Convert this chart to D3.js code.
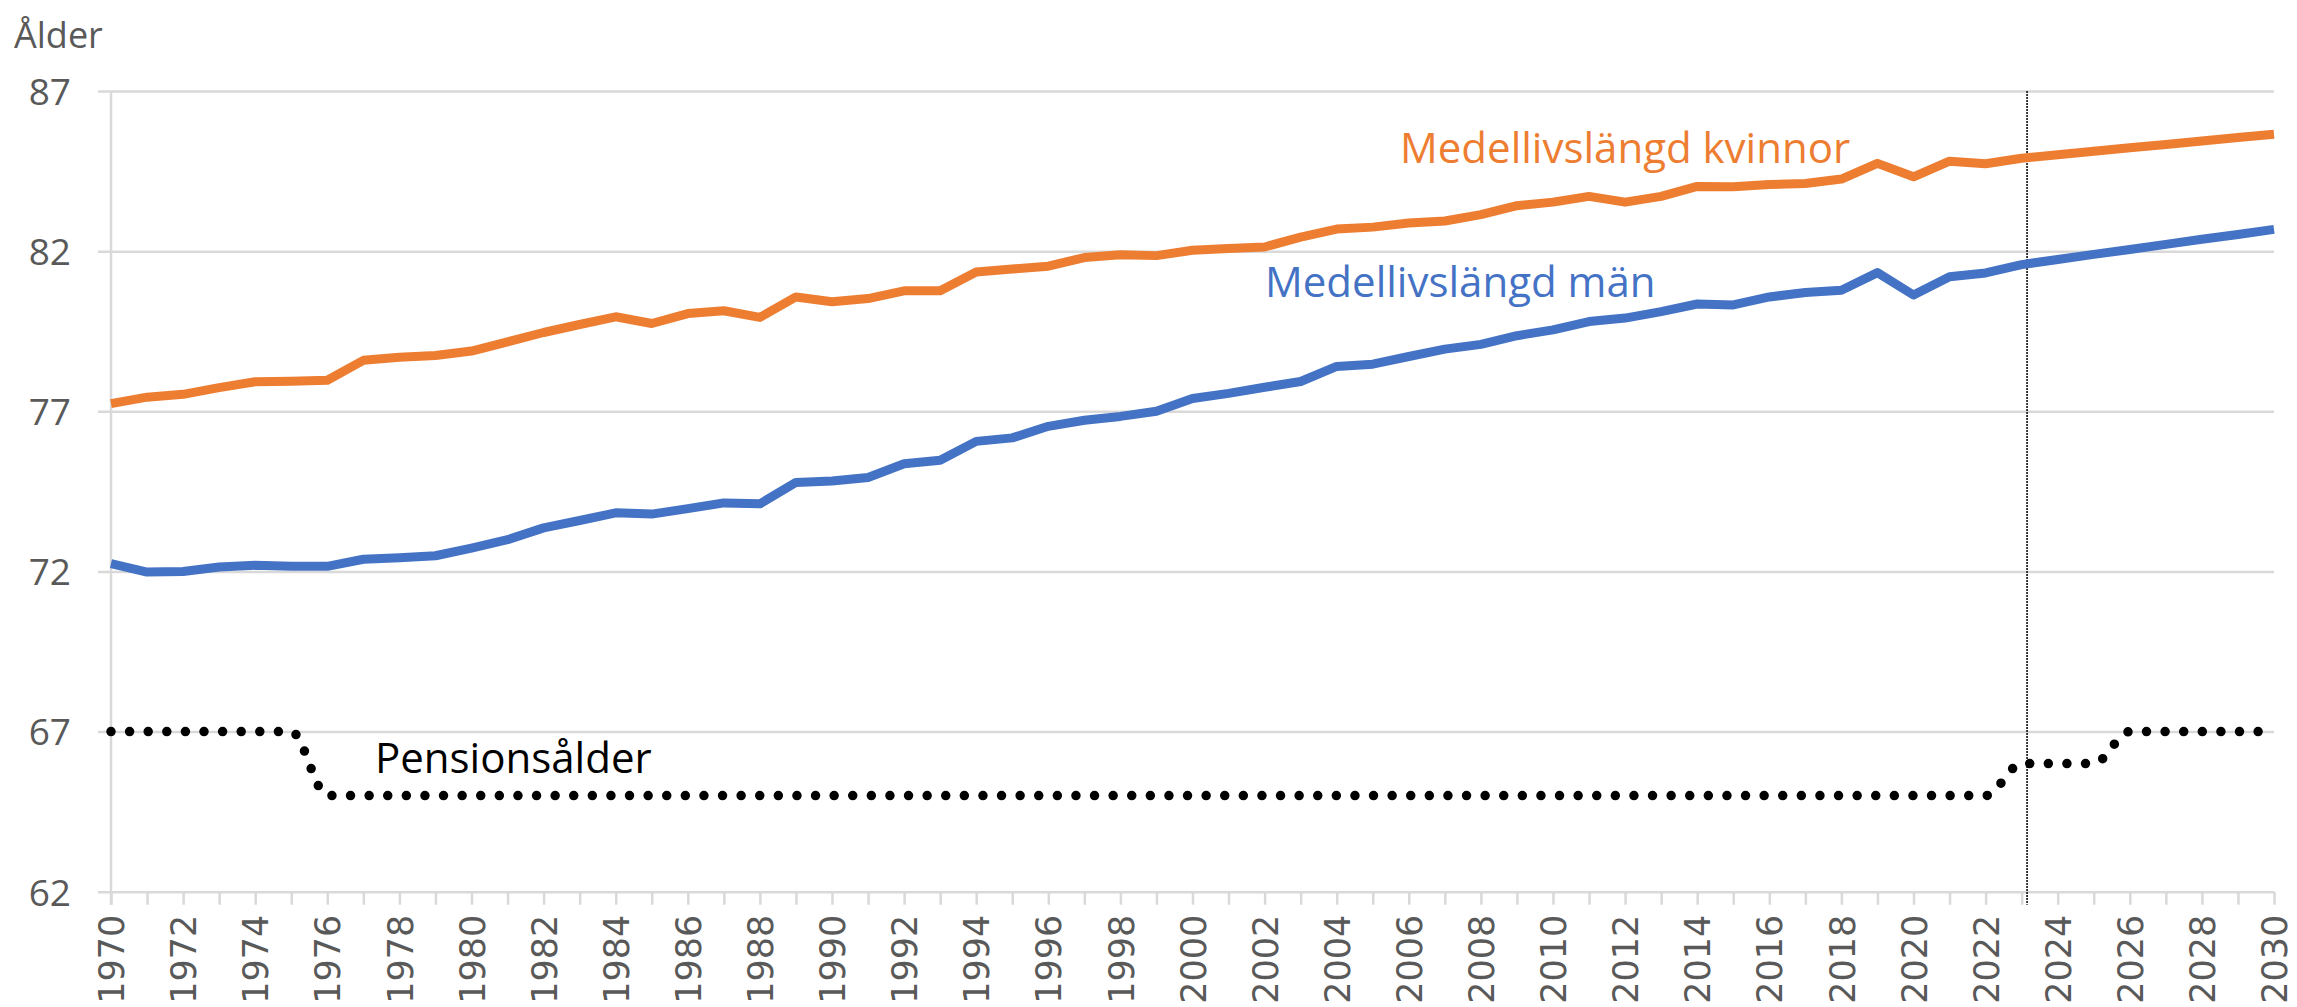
<!DOCTYPE html>
<html>
<head>
<meta charset="utf-8">
<script src="https://cdn.jsdelivr.net/npm/d3@7"></script>
<style>
  body { margin: 0; background: #fff; }
  svg { display: block; }
</style>
</head>
<body>
<div id="chart"></div>
<script>
// years 1970-2030
var years = d3.range(1970, 2031);

// medellivslängd kvinnor
var kvinnor = [77.24, 77.44, 77.53, 77.74, 77.92, 77.94, 77.97, 78.59, 78.69, 78.74,
               78.88, 79.17, 79.46, 79.71, 79.95, 79.74, 80.05, 80.14, 79.93, 80.57,
               80.42, 80.52, 80.76, 80.76, 81.35, 81.44, 81.53, 81.80, 81.89, 81.86,
               82.03, 82.08, 82.13, 82.44, 82.69, 82.75, 82.88, 82.94, 83.14, 83.42,
               83.53, 83.71, 83.53, 83.71, 84.02, 84.01, 84.08, 84.11, 84.25, 84.74,
               84.32, 84.81, 84.73, 84.90, 85.01, 85.12, 85.23, 85.33, 85.44, 85.55,
               85.65];

// medellivslängd män
var man = [72.24, 71.98, 72.00, 72.14, 72.19, 72.16, 72.16, 72.38, 72.43, 72.49,
           72.73, 72.99, 73.36, 73.59, 73.83, 73.79, 73.96, 74.14, 74.11, 74.78,
           74.82, 74.93, 75.36, 75.47, 76.06, 76.17, 76.53, 76.72, 76.84, 77.00,
           77.40, 77.56, 77.75, 77.93, 78.40, 78.47, 78.71, 78.94, 79.09, 79.36,
           79.54, 79.80, 79.91, 80.11, 80.35, 80.32, 80.57, 80.71, 80.78, 81.33,
           80.63, 81.20, 81.32, 81.58, 81.74, 81.90, 82.05, 82.21, 82.37, 82.52,
           82.68];

// pensionsålder
var pension = [67, 67, 67, 67, 67, 67, 65, 65, 65, 65,
               65, 65, 65, 65, 65, 65, 65, 65, 65, 65,
               65, 65, 65, 65, 65, 65, 65, 65, 65, 65,
               65, 65, 65, 65, 65, 65, 65, 65, 65, 65,
               65, 65, 65, 65, 65, 65, 65, 65, 65, 65,
               65, 65, 65, 66, 66, 66, 67, 67, 67, 67,
               67];

var yTicks = [62, 67, 72, 77, 82, 87];
var xLabelYears = d3.range(1970, 2031, 2);
var prognosYear = 2023.15;

var w = 2297,
    h = 1007;

var svg = d3.select("#chart")
    .append("svg")
    .attr("width", w)
    .attr("height", h);

var x = d3.scaleLinear().domain([1970, 2030]).range([111, 2274]);
var y = d3.scaleLinear().domain([62, 87]).range([891.7, 91]);

var grey = "#D9D9D9";

// gridlines
svg.append("g")
    .attr("transform", "translate(98,0)")
    .call(d3.axisLeft(y).tickValues(yTicks).tickSize(-(2274 - 98)).tickFormat(""))
    .call(function (g) { g.select(".domain").remove(); })
    .selectAll("line")
    .attr("stroke", grey)
    .attr("stroke-width", 2.5);

// y axis labels
svg.append("g")
    .attr("transform", "translate(98,0)")
    .call(d3.axisLeft(y).tickValues(yTicks).tickSize(0).tickPadding(27))
    .call(function (g) { g.select(".domain").remove(); })
    .selectAll("text")
    .attr("font-family", "'Open Sans', sans-serif")
    .attr("font-size", "37px")
    .attr("fill", "#595959")
    .attr("dy", "0.36em");

// left axis line
svg.append("line")
    .attr("x1", x(1970)).attr("x2", x(1970))
    .attr("y1", y(87)).attr("y2", y(62) + 13)
    .attr("stroke", grey)
    .attr("stroke-width", 2.5);

// x axis
var xAxis = svg.append("g")
    .attr("transform", "translate(0," + y(62) + ")")
    .call(d3.axisBottom(x).tickValues(years).tickSize(13)
        .tickFormat(function (d) { return xLabelYears.indexOf(d) >= 0 ? d : ""; }))
    .call(function (g) { g.select(".domain").remove(); });

xAxis.selectAll("line")
    .attr("stroke", grey)
    .attr("stroke-width", 2.5);

xAxis.selectAll("text")
    .attr("transform", "rotate(-90)")
    .attr("x", -23)
    .attr("y", 0)
    .attr("dy", "0.36em")
    .attr("text-anchor", "end")
    .attr("font-family", "'DejaVu Sans', sans-serif")
    .attr("font-size", "35px")
    .attr("fill", "#595959");

// vertical line at prognosis start
svg.append("line")
    .attr("x1", x(prognosYear)).attr("x2", x(prognosYear))
    .attr("y1", y(87)).attr("y2", y(62) + 13)
    .attr("stroke", "#000")
    .attr("stroke-width", 1.5)
    .attr("stroke-dasharray", "2,1");

// lines
var line = d3.line()
    .x(function (d, i) { return x(years[i]); })
    .y(function (d) { return y(d); });

svg.append("path")
    .datum(kvinnor)
    .attr("fill", "none")
    .attr("stroke", "#ED7D31")
    .attr("stroke-width", 9)
    .attr("stroke-linejoin", "round")
    .attr("d", line);

svg.append("path")
    .datum(man)
    .attr("fill", "none")
    .attr("stroke", "#4472C4")
    .attr("stroke-width", 9)
    .attr("stroke-linejoin", "round")
    .attr("d", line);

svg.append("path")
    .datum(pension)
    .attr("fill", "none")
    .attr("stroke", "#000")
    .attr("stroke-width", 9.5)
    .attr("stroke-linecap", "round")
    .attr("stroke-dasharray", "0 18.6")
    .attr("d", line.curve(d3.curveMonotoneX));

// labels
svg.append("text")
    .attr("x", 14).attr("y", 48)
    .attr("font-family", "'Open Sans', sans-serif")
    .attr("font-size", "36px")
    .attr("fill", "#595959")
    .text("Ålder");

svg.append("text")
    .attr("x", 1400).attr("y", 163)
    .attr("font-family", "'Open Sans', sans-serif")
    .attr("font-size", "42px")
    .attr("fill", "#ED7D31")
    .text("Medellivslängd kvinnor");

svg.append("text")
    .attr("x", 1265).attr("y", 297)
    .attr("font-family", "'Open Sans', sans-serif")
    .attr("font-size", "42px")
    .attr("fill", "#4472C4")
    .text("Medellivslängd män");

svg.append("text")
    .attr("x", 375).attr("y", 773)
    .attr("font-family", "'Open Sans', sans-serif")
    .attr("font-size", "42px")
    .attr("fill", "#000")
    .text("Pensionsålder");
</script>
</body>
</html>
